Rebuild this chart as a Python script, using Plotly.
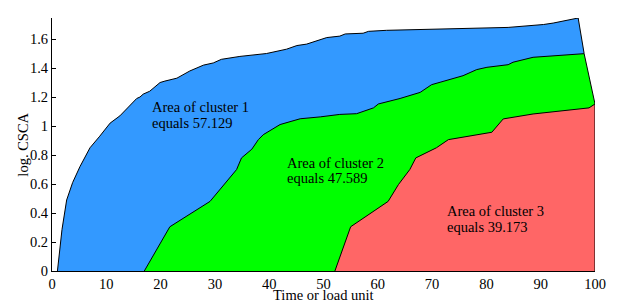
import plotly.graph_objects as go

# Cluster 1 (blue) upper boundary
c1_x = [1, 1.4, 1.84, 2.7, 3.8, 5.15, 7.0, 8.8, 10.7, 12.5, 14.2, 15.6, 16.2, 16.8, 18.0, 19.9,
        20.8, 23.0, 25.4, 27.9, 29.7, 31.2, 34.6, 39.5, 43.2, 45.1, 46.9, 49.4, 50.6, 53, 54,
        57.3, 58.3, 61.6, 75.1, 84, 90.5, 92.3, 96.9, 98.0]
c1_y = [0, 0.15, 0.286, 0.49, 0.61, 0.72, 0.85, 0.93, 1.02, 1.07, 1.14, 1.19, 1.20, 1.22, 1.24, 1.30,
        1.31, 1.33, 1.38, 1.42, 1.435, 1.46, 1.48, 1.50, 1.53, 1.555, 1.565, 1.595, 1.61, 1.62, 1.635,
        1.64, 1.653, 1.66, 1.669, 1.68, 1.70, 1.71, 1.745, 1.50]

# Cluster 2 (green) upper boundary
c2_x = [17.0, 21.7, 29.1, 31.9, 34.0, 34.9, 36.8, 38.0, 38.9, 42.0, 45.7, 49.4, 53, 56.1, 59.2,
        60.1, 64.1, 67.8, 69.9, 75.7, 78.2, 80.1, 84.0, 84.9, 87.7, 88.6, 98.0, 100]
c2_y = [0, 0.305, 0.48, 0.61, 0.70, 0.78, 0.84, 0.906, 0.94, 1.01, 1.05, 1.063, 1.08, 1.085, 1.125,
        1.152, 1.19, 1.232, 1.285, 1.347, 1.389, 1.405, 1.423, 1.44, 1.462, 1.474, 1.499, 1.152]

# Cluster 3 (red) upper boundary
c3_x = [52.1, 55.0, 61.9, 63.8, 65.9, 67.0, 70.8, 73.0, 81.0, 83.1, 88.6, 98.9, 100, 100]
c3_y = [0, 0.305, 0.48, 0.596, 0.70, 0.78, 0.85, 0.906, 0.957, 1.049, 1.083, 1.125, 1.152, 0]

cluster_names = ["Area of cluster 1", "Area of cluster 2", "Area of cluster 3"]
cluster_areas = ["57.129", "47.589", "39.173"]

colors = ["#3399ff", "#00ff00", "#ff6666"]
FONT = "Liberation Serif"
TXT = dict(family=FONT, size=14.5, color="black")

fig = go.Figure()
for xs, ys, col in [(c1_x, c1_y, colors[0]), (c2_x, c2_y, colors[1]), (c3_x, c3_y, colors[2])]:
    fig.add_trace(go.Scatter(x=xs, y=ys, mode="lines", fill="tozeroy", fillcolor=col,
                             line=dict(color="black", width=1), hoverinfo="skip",
                             showlegend=False))

label_pos = [(18.05, 1.131, 1.021), (42.9, 0.747, 0.639), (72.4, 0.414, 0.301)]
for (lx, ly1, ly2), name, area in zip(label_pos, cluster_names, cluster_areas):
    fig.add_annotation(x=lx, y=ly1, text=name, showarrow=False, xanchor="left", yanchor="middle",
                       font=TXT)
    fig.add_annotation(x=lx, y=ly2, text="equals " + area, showarrow=False, xanchor="left",
                       yanchor="middle", font=TXT)

fig.add_annotation(xref="paper", yref="paper", x=-0.055, y=0.5, text="log. CSCA", textangle=-90,
                   showarrow=False, xanchor="center", yanchor="middle", font=TXT)
fig.add_annotation(xref="paper", yref="paper", x=0.5, y=-0.095, text="Time or load unit",
                   showarrow=False, xanchor="center", yanchor="middle", font=TXT)

fig.update_layout(
    width=621, height=301,
    margin=dict(l=44, r=34, t=10, b=38, autoexpand=False),
    plot_bgcolor="white", paper_bgcolor="white",
    font=TXT,
    xaxis=dict(range=[0, 100], dtick=10, showline=True, linecolor="black", linewidth=1,
               showgrid=False, zeroline=False, ticks="", ticklabelstandoff=0,
               tickfont=TXT, automargin=False),
    yaxis=dict(range=[0, 1.745], dtick=0.2, showline=True, linecolor="black", linewidth=1,
               showgrid=False, zeroline=False, ticks="inside", ticklen=4, tickcolor="black",
               ticklabelstandoff=0, tickfont=TXT, automargin=False),
)

fig.write_html("out.html")
